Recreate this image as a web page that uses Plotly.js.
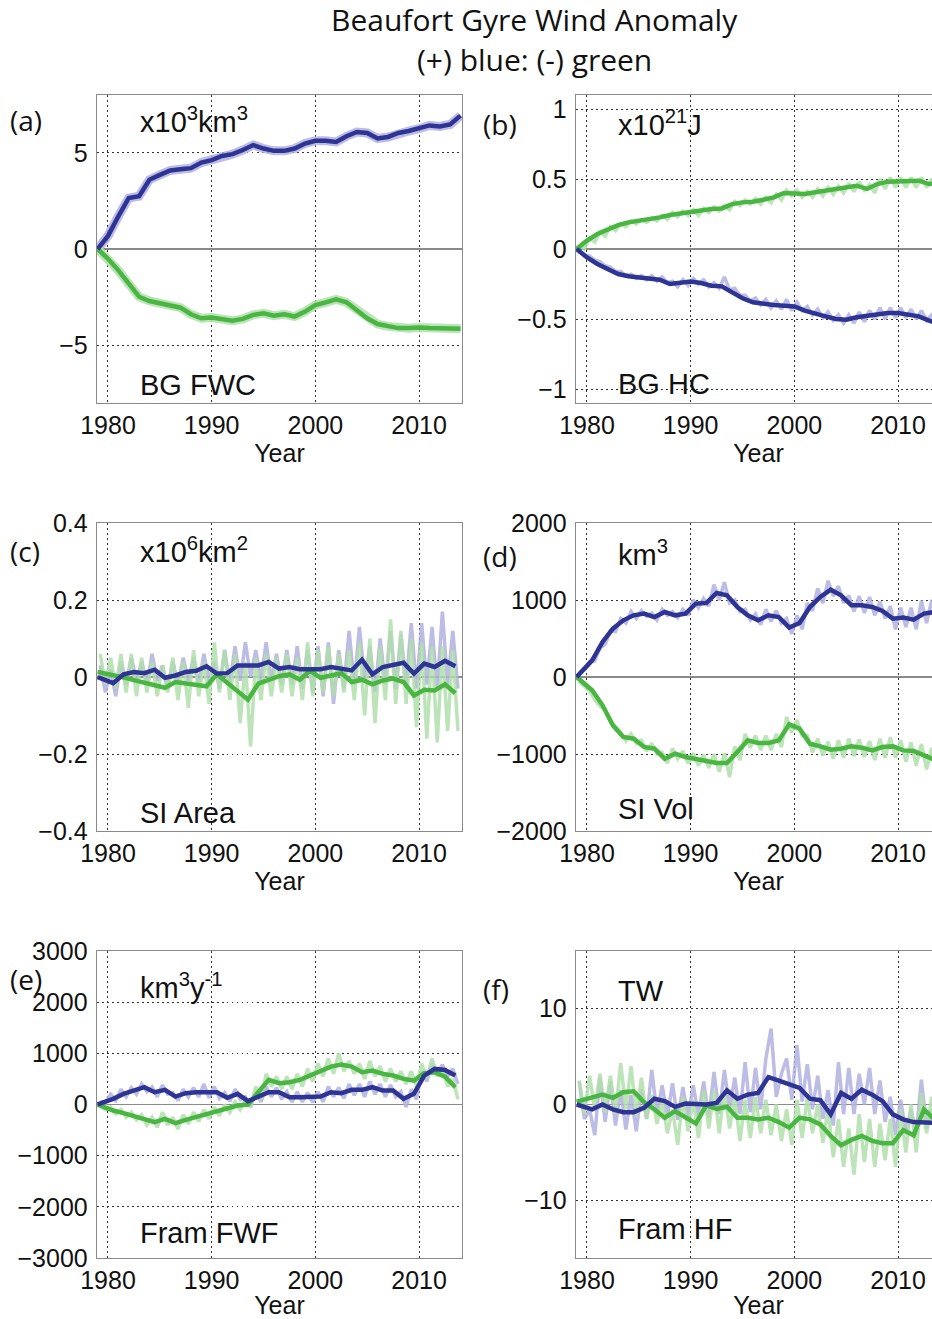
<!DOCTYPE html>
<html>
<head>
<meta charset="utf-8">
<script src="https://cdn.plot.ly/plotly-3.0.1.min.js"></script>
<style>
  html, body { margin: 0; padding: 0; background: #fff; overflow: hidden; }
  #fig { width: 950px; height: 1319px; }
</style>
</head>
<body>
<div id="fig"></div>
<script>
// ---- time axes ----
const YEARS = [1979,1980,1981,1982,1983,1984,1985,1986,1987,1988,1989,1990,1991,1992,1993,1994,1995,1996,
               1997,1998,1999,2000,2001,2002,2003,2004,2005,2006,2007,2008,2009,2010,2011,2012,2013,2014];
const ANNUAL_T = [1979,1980.5,1981.5,1982.5,1983.5,1984.5,1985.5,1986.5,1987.5,1988.5,1989.5,1990.5,1991.5,
                  1992.5,1993.5,1994.5,1995.5,1996.5,1997.5,1998.5,1999.5,2000.5,2001.5,2002.5,2003.5,2004.5,
                  2005.5,2006.5,2007.5,2008.5,2009.5,2010.5,2011.5,2012.5,2013.5];
// two sub-annual samples per year (spring / autumn)
const SUB_T = [];
for (let y = 1979; y <= 2013; y++) { SUB_T.push(y + 0.25, y + 0.75); }

// ---- (a) BG freshwater content, x10^3 km^3 ----
const A_BLUE  = [0,0.68,1.7,2.65,2.74,3.6,3.85,4.08,4.14,4.2,4.49,4.62,4.83,4.93,5.14,5.4,5.22,5.1,5.1,5.22,
                 5.48,5.62,5.62,5.56,5.86,6.08,6.03,5.74,5.82,6.03,6.13,6.25,6.42,6.37,6.47,6.93];
const A_GREEN = [0,-0.51,-1.11,-1.8,-2.48,-2.7,-2.83,-2.91,-3.05,-3.39,-3.6,-3.56,-3.63,-3.73,-3.63,-3.42,
                 -3.34,-3.46,-3.39,-3.51,-3.25,-2.91,-2.77,-2.62,-2.77,-3.17,-3.6,-3.9,-4.02,-4.11,-4.11,
                 -4.08,-4.11,-4.11,-4.11,-4.14];

// ---- (b) BG heat content, x10^21 J ----
const B_BLUE  = [0,-0.06,-0.107,-0.143,-0.179,-0.195,-0.202,-0.21,-0.219,-0.25,-0.243,-0.233,-0.243,-0.262,
                 -0.267,-0.31,-0.352,-0.381,-0.393,-0.4,-0.405,-0.41,-0.44,-0.457,-0.481,-0.5,-0.505,-0.488,
                 -0.476,-0.464,-0.457,-0.457,-0.471,-0.481,-0.512,-0.536];
const B_GREEN = [0,0.06,0.107,0.143,0.171,0.19,0.202,0.21,0.226,0.243,0.255,0.262,0.274,0.286,0.29,0.321,
                 0.333,0.338,0.352,0.369,0.4,0.4,0.393,0.405,0.417,0.424,0.44,0.452,0.429,0.464,0.481,0.481,
                 0.481,0.488,0.464,0.471];
const B_BLUE_SUB  = [-0.02,-0.04,-0.05,-0.08,-0.09,-0.12,-0.13,-0.16,-0.16,-0.19,-0.18,-0.21,-0.19,-0.22,
                     -0.19,-0.23,-0.2,-0.24,-0.23,-0.27,-0.22,-0.26,-0.21,-0.25,-0.22,-0.27,-0.24,-0.28,-0.2,
                     -0.29,-0.28,-0.33,-0.33,-0.37,-0.35,-0.4,-0.36,-0.42,-0.37,-0.43,-0.36,-0.44,-0.38,-0.44,
                     -0.41,-0.47,-0.43,-0.49,-0.45,-0.51,-0.47,-0.53,-0.47,-0.53,-0.45,-0.52,-0.44,-0.5,-0.42,
                     -0.5,-0.42,-0.49,-0.42,-0.49,-0.43,-0.5,-0.44,-0.51,-0.47,-0.55];
const B_GREEN_SUB = [0.03,0.0,0.08,0.05,0.12,0.09,0.16,0.13,0.18,0.16,0.2,0.18,0.21,0.19,0.22,0.2,0.24,0.21,
                     0.26,0.23,0.27,0.24,0.28,0.24,0.29,0.26,0.3,0.27,0.31,0.28,0.34,0.31,0.35,0.32,0.36,0.32,
                     0.37,0.33,0.39,0.35,0.42,0.38,0.42,0.37,0.41,0.37,0.43,0.38,0.44,0.39,0.45,0.4,0.47,0.41,
                     0.48,0.42,0.46,0.4,0.5,0.43,0.51,0.44,0.51,0.44,0.51,0.44,0.51,0.44,0.5,0.42];

// ---- (c) sea-ice area, x10^6 km^2 ----
const C_BLUE  = [0,-0.016,0.007,0.013,0.01,0.019,-0.002,0.004,0.013,0.016,0.028,0.009,0.01,0.03,0.03,0.03,
                 0.039,0.022,0.026,0.02,0.02,0.02,0.026,0.022,0.017,0.045,0.007,0.026,0.033,0.037,0.009,
                 0.035,0.026,0.042,0.028];
const C_GREEN = [0.013,0.006,-0.001,-0.008,-0.015,-0.022,-0.028,-0.013,-0.016,-0.019,-0.024,0.007,-0.015,
                 -0.037,-0.059,-0.017,-0.007,0.002,0.007,-0.007,0.016,-0.002,0.004,0.01,-0.013,-0.007,-0.019,
                 -0.009,-0.004,-0.013,-0.048,-0.033,-0.035,-0.019,-0.042];
const C_BLUE_SUB  = [0.03,-0.04,0.02,-0.05,0.04,-0.02,0.05,-0.01,0.04,-0.02,0.06,-0.01,0.03,-0.03,0.04,-0.02,
                     0.05,-0.01,0.05,-0.02,0.06,-0.01,0.04,-0.03,0.07,-0.02,0.08,-0.01,0.09,0.0,0.07,-0.01,
                     0.09,-0.01,0.06,-0.02,0.07,-0.02,0.08,-0.03,0.07,-0.04,0.08,-0.05,0.09,-0.07,0.07,-0.03,
                     0.12,-0.02,0.13,-0.01,0.08,-0.04,0.1,-0.02,0.12,-0.03,0.11,-0.02,0.14,-0.03,0.14,-0.02,
                     0.13,-0.03,0.17,-0.02,0.12,-0.03];
const C_GREEN_SUB = [0.06,-0.02,0.05,-0.03,0.06,-0.04,0.06,-0.05,0.05,-0.04,0.04,-0.05,0.03,-0.04,0.05,-0.06,
                     0.04,-0.08,0.07,-0.05,0.04,-0.07,0.09,-0.04,0.07,-0.06,0.06,-0.12,0.04,-0.18,0.05,-0.06,
                     0.06,-0.05,0.05,-0.04,0.06,-0.05,0.05,-0.06,0.09,-0.05,0.07,-0.04,0.08,-0.05,0.06,-0.04,
                     0.07,-0.06,0.09,-0.1,0.1,-0.12,0.08,-0.06,0.15,-0.07,0.12,-0.07,0.1,-0.13,0.09,-0.16,
                     0.08,-0.17,0.08,-0.14,0.07,-0.14];

// ---- (d) sea-ice volume, km^3 ----
const D_BLUE  = [0,216,455,628,736,801,823,779,844,801,823,953,961,1091,1061,909,801,736,801,779,641,701,909,
                 1039,1134,1061,931,931,909,857,758,771,745,823,844];
const D_GREEN = [0,-173,-368,-628,-779,-801,-909,-931,-1061,-996,-1039,-1070,-1091,-1117,-1117,-974,-823,
                 -857,-857,-823,-615,-671,-866,-901,-944,-931,-901,-918,-953,-909,-901,-953,-961,-1018,-1074];
const D_BLUE_SUB  = [40,100,200,210,380,420,600,590,760,700,850,760,860,790,830,740,880,800,850,770,880,800,
                     1000,900,1020,920,1200,1000,1230,960,1000,850,880,740,820,680,880,720,860,700,760,560,
                     800,620,960,860,1150,960,1250,1050,1180,960,1060,850,1050,830,1040,800,980,760,920,620,
                     900,650,900,620,990,700,1000,720];
const D_GREEN_SUB = [-60,-120,-180,-300,-380,-420,-580,-650,-720,-830,-740,-860,-820,-960,-860,-1000,-980,
                     -1120,-930,-1060,-960,-1120,-990,-1150,-1010,-1180,-1000,-1230,-990,-1300,-900,-1080,
                     -740,-920,-760,-950,-760,-950,-740,-910,-520,-720,-560,-760,-760,-980,-800,-1020,-840,
                     -1060,-820,-1050,-800,-1030,-810,-1040,-830,-1080,-800,-1050,-780,-1050,-820,-1100,-850,
                     -1150,-870,-1200,-920,-1250];

// ---- (e) Fram Strait freshwater flux, km^3 y^-1 ----
const E_BLUE  = [0,110,208,273,338,240,286,156,221,240,240,240,130,208,65,143,240,240,143,143,143,156,240,
                 221,286,286,338,273,273,110,208,565,696,676,565];
const E_GREEN = [0,-117,-169,-234,-299,-345,-280,-364,-299,-247,-195,-130,-85,-20,0,240,481,416,436,481,566,
                 663,741,780,741,631,663,598,566,500,468,611,631,546,338];
const E_BLUE_SUB  = [60,30,200,80,300,150,330,200,400,250,340,150,380,200,230,80,300,150,330,150,400,130,350,
                     120,230,60,300,100,150,-50,250,50,350,150,330,100,250,50,250,50,230,40,250,50,350,150,
                     330,120,400,180,400,150,450,200,400,150,380,150,250,-50,300,100,650,450,800,600,780,550,
                     700,400];
const E_GREEN_SUB = [-30,-100,-50,-180,-100,-250,-150,-300,-200,-400,-250,-450,-150,-400,-250,-480,-200,-380,
                     -150,-330,-100,-280,-50,-220,0,-150,50,-100,100,-50,350,100,600,350,550,300,550,300,600,
                     350,700,450,800,550,900,600,1000,650,850,600,800,500,850,550,750,450,700,450,650,400,
                     650,350,800,500,900,550,700,350,500,100];

// ---- (f) Fram Strait heat flux, TW ----
const F_BLUE  = [0,-0.5,0,-0.5,-0.8,-0.8,-0.35,0.6,0.35,-0.25,0.1,0,0,0.17,1.48,0.6,1.03,1.2,2.86,2.5,2.17,
                 1.72,0.6,0.45,-1.03,1.2,0.6,1.55,1.03,0.35,-1.03,-1.55,-1.83,-1.9,-1.9];
const F_GREEN = [0.3,0.8,1.03,0.7,1.28,1.38,0.24,-0.5,-1.38,-0.7,-1.28,-1.97,-0.1,-0.45,-0.24,-1.38,-1.38,
                 -1.55,-1.38,-1.83,-2.41,-1.38,-1.55,-2.07,-3.28,-4.24,-3.69,-3.28,-3.79,-4.03,-4.03,-2.66,
                 -3.21,-0.52,-1.55];
const F_BLUE_SUB  = [2.4,-1.5,-0.5,-3.2,2.8,-1.8,2.4,-2.2,1.5,-2.6,1.0,-2.8,1.6,-1.5,3.6,-1.0,2.0,-1.3,2.2,
                     -1.6,1.8,-1.3,2.0,-1.2,2.4,-1.4,3.4,-1.0,3.6,-0.5,2.8,-1.0,4.4,-0.8,3.8,-0.5,4.8,7.9,0.8,
                     3.2,4.8,0.5,6.2,0.3,4.2,-0.5,3.0,-1.5,1.5,-2.2,4.4,-1.0,3.8,-1.0,3.2,0.0,3.8,-1.0,2.5,
                     -1.8,0.8,-3.2,0.5,-3.0,-0.5,-3.2,2.6,-2.5,-0.5,-3.5];
const F_GREEN_SUB = [2.5,-1.0,3.0,-0.5,3.2,-0.8,3.0,-1.0,4.3,-0.5,4.0,-1.2,2.8,-1.5,1.0,-2.0,0.5,-3.0,-0.5,
                     -4.2,0.8,-2.8,0.5,-3.5,1.5,-2.5,1.5,-3.0,1.5,-2.5,0.8,-3.8,0.5,-3.5,0.8,-3.0,0.5,-3.2,0.0,
                     -3.8,-0.5,-4.2,0.5,-3.5,0.8,-3.0,0.0,-4.0,-0.5,-5.5,-1.5,-6.5,-2.5,-7.3,-1.0,-6.0,-1.5,
                     -6.5,-2.0,-5.8,-1.5,-6.5,-0.5,-5.0,0.0,-5.0,1.2,-3.0,0.8,-5.8];

// ---- styling ----
const BLUE = 'rgb(46,52,148)', GREEN = 'rgb(72,182,64)';
const BLUE_LT = 'rgba(176,176,224,0.85)', GREEN_LT = 'rgba(178,222,172,0.85)';
const W = 950, H = 1319;
const px = p => p / W;
const py = p => 1 - p / H;
const TICK_FONT = {family: 'Liberation Sans, Arial, sans-serif', size: 25, color: '#111'};
const TEXT_FONT = {family: 'Liberation Sans, Arial, sans-serif', size: 29, color: '#111'};
const LABEL_FONT = {family: 'Open Sans, Noto Sans, sans-serif', size: 28, color: '#111'};
const HEAD_FONT = {family: 'Open Sans, Noto Sans, sans-serif', size: 30, color: '#111'};

const COLS = [[97, 462], [576, 941]];
const ROWS = [[95, 403], [523, 831], [951, 1258]];

function line(x, y, color, width, ax) {
  return {x: x, y: y, type: 'scatter', mode: 'lines', hoverinfo: 'skip',
          line: {color: color, width: width, shape: 'linear'}, xaxis: 'x' + ax, yaxis: 'y' + ax};
}

const traces = [
  // (a): monthly values follow the smooth curve, shown as a pale halo
  line(YEARS, A_BLUE, BLUE_LT, 9, ''), line(YEARS, A_GREEN, GREEN_LT, 9, ''),
  line(YEARS, A_GREEN, GREEN, 4.5, ''), line(YEARS, A_BLUE, BLUE, 4.5, ''),
  // (b)
  line(SUB_T, B_BLUE_SUB, BLUE_LT, 3.5, '2'), line(SUB_T, B_GREEN_SUB, GREEN_LT, 3.5, '2'),
  line(YEARS, B_GREEN, GREEN, 4.5, '2'), line(YEARS, B_BLUE, BLUE, 4.5, '2'),
  // (c)
  line(SUB_T, C_BLUE_SUB, BLUE_LT, 3.5, '3'), line(SUB_T, C_GREEN_SUB, GREEN_LT, 3.5, '3'),
  line(ANNUAL_T, C_GREEN, GREEN, 4.5, '3'), line(ANNUAL_T, C_BLUE, BLUE, 4.5, '3'),
  // (d)
  line(SUB_T, D_BLUE_SUB, BLUE_LT, 3.5, '4'), line(SUB_T, D_GREEN_SUB, GREEN_LT, 3.5, '4'),
  line(ANNUAL_T, D_GREEN, GREEN, 4.5, '4'), line(ANNUAL_T, D_BLUE, BLUE, 4.5, '4'),
  // (e)
  line(SUB_T, E_BLUE_SUB, BLUE_LT, 3.5, '5'), line(SUB_T, E_GREEN_SUB, GREEN_LT, 3.5, '5'),
  line(ANNUAL_T, E_GREEN, GREEN, 4.5, '5'), line(ANNUAL_T, E_BLUE, BLUE, 4.5, '5'),
  // (f)
  line(SUB_T, F_BLUE_SUB, BLUE_LT, 3.5, '6'), line(SUB_T, F_GREEN_SUB, GREEN_LT, 3.5, '6'),
  line(ANNUAL_T, F_GREEN, GREEN, 4.5, '6'), line(ANNUAL_T, F_BLUE, BLUE, 4.5, '6')
];

const Y_RANGES = [[-8, 8], [-1.1, 1.1], [-0.4, 0.4], [-2000, 2000], [-3000, 3000], [-16, 16]];
const Y_TICKS = [[-5, 0, 5], [-1, -0.5, 0, 0.5, 1], [-0.4, -0.2, 0, 0.2, 0.4],
                 [-2000, -1000, 0, 1000, 2000], [-3000, -2000, -1000, 0, 1000, 2000, 3000], [-10, 0, 10]];
const X_TICKS = [1980, 1990, 2000, 2010];

const layout = {
  width: W, height: H, margin: {l: 0, r: 0, t: 0, b: 0},
  paper_bgcolor: '#fff', plot_bgcolor: '#fff', showlegend: false,
  annotations: []
};

for (let i = 0; i < 6; i++) {
  const c = COLS[i % 2], r = ROWS[Math.floor(i / 2)];
  const sfx = i === 0 ? '' : String(i + 1);
  const axBase = {
    showline: true, linecolor: '#8a8a8a', linewidth: 1.3, mirror: true,
    showgrid: true, gridcolor: '#333', gridwidth: 1, griddash: '1.5px,3.5px',
    ticks: '', tickfont: TICK_FONT, fixedrange: true
  };
  layout['xaxis' + sfx] = Object.assign({}, axBase, {
    domain: [px(c[0]), px(c[1])], anchor: 'y' + sfx,
    range: [1978.94, 2014.14], tickmode: 'array', tickvals: X_TICKS,
    zeroline: false, ticklabelstandoff: 0,
    title: {text: 'Year', font: TICK_FONT, standoff: 0}
  });
  layout['yaxis' + sfx] = Object.assign({}, axBase, {
    domain: [py(r[1]), py(r[0])], anchor: 'x' + sfx,
    range: Y_RANGES[i], tickmode: 'array', tickvals: Y_TICKS[i],
    zeroline: true, zerolinecolor: '#8a8a8a', zerolinewidth: 1.5, ticklabelstandoff: 3
  });
}

function note(text, x, y, font, anchor) {
  layout.annotations.push({text: text, x: px(x), y: py(y), xref: 'paper', yref: 'paper',
                           xanchor: anchor || 'left', yanchor: 'middle', showarrow: false, font: font});
}
// figure heading
note('Beaufort Gyre Wind Anomaly', 534, 20, HEAD_FONT, 'center');
note('(+) blue: (-) green', 534, 60, HEAD_FONT, 'center');

// panel letters
note('(a)', 8, 120, LABEL_FONT);  note('(b)', 481, 124, LABEL_FONT);
note('(c)', 8, 551, LABEL_FONT);  note('(d)', 481, 556, LABEL_FONT);
note('(e)', 8, 979, LABEL_FONT);  note('(f)', 481, 989, LABEL_FONT);
// units
note('x10<sup>3</sup>km<sup>3</sup>', 138, 120, TEXT_FONT);
note('x10<sup>21</sup>J', 616, 123, TEXT_FONT);
note('x10<sup>6</sup>km<sup>2</sup>', 138, 550, TEXT_FONT);
note('km<sup>3</sup>', 616, 553, TEXT_FONT);
note('km<sup>3</sup>y<sup>-1</sup>', 138, 986, TEXT_FONT);
note('TW', 616, 991, TEXT_FONT);
// quantity names
note('BG FWC', 138, 385, TEXT_FONT);
note('BG HC', 616, 384, TEXT_FONT);
note('SI Area', 138, 813, TEXT_FONT);
note('SI Vol', 616, 809, TEXT_FONT);
note('Fram FWF', 138, 1233, TEXT_FONT);
note('Fram HF', 616, 1229, TEXT_FONT);

Plotly.newPlot('fig', traces, layout, {staticPlot: true, displayModeBar: false});
</script>
</body>
</html>
